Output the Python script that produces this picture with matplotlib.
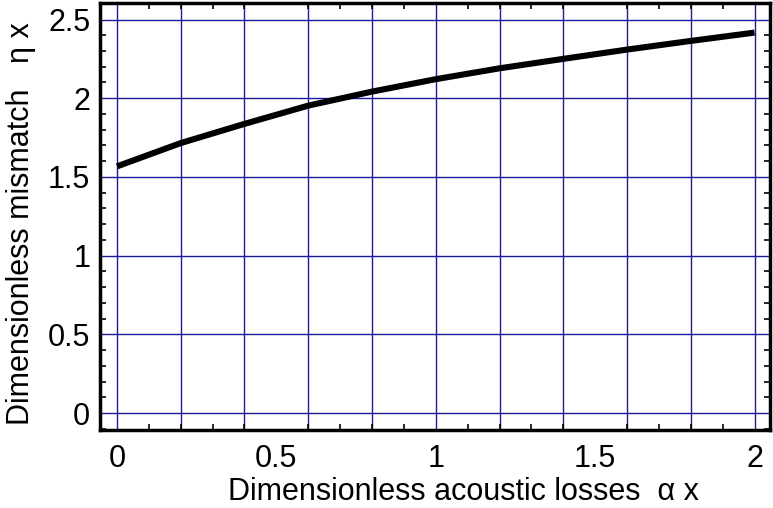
import matplotlib
matplotlib.use("Agg")
import matplotlib.pyplot as plt
import numpy as np
from matplotlib.ticker import MultipleLocator

plt.rcParams['font.family'] = ['Liberation Sans', 'DejaVu Sans']

alpha_x = [0.0, 0.2, 0.4, 0.6, 0.8, 1.0, 1.2, 1.4, 1.6, 1.8, 2.0]
eta_x = [1.567, 1.715, 1.837, 1.953, 2.042, 2.121, 2.190, 2.250, 2.309, 2.364, 2.417]

xticks = [0, 0.5, 1, 1.5, 2]
xtick_labels = ['0', '0.5', '1', '1.5', '2']
yticks = [0, 0.5, 1, 1.5, 2, 2.5]
ytick_labels = ['0', '0.5', '1', '1.5', '2', '2.5']
xgrid = [0, 0.2, 0.4, 0.6, 0.8, 1.0, 1.2, 1.4, 1.6, 1.8, 2.0]

fig = plt.figure(figsize=(7.73, 5.08), dpi=100)
ax = fig.add_axes([100/773, 78/508, 670/773, 427/508])

grid_color = '#1c1c9a'
for gx in xgrid:
    ax.axvline(gx, color=grid_color, lw=1.0, zorder=1)
for gy in yticks:
    ax.axhline(gy, color=grid_color, lw=1.0, zorder=1)

ax.plot(alpha_x, eta_x, color='black', lw=4.4, solid_capstyle='butt', zorder=3)

ax.set_xlim(-0.0533, 2.0486)
ax.set_ylim(-0.108, 2.605)

ax.set_xticks(xticks)
ax.set_xticklabels(xtick_labels)
ax.set_yticks(yticks)
ax.set_yticklabels(ytick_labels)
ax.xaxis.set_minor_locator(MultipleLocator(0.1))
ax.yaxis.set_minor_locator(MultipleLocator(0.1))

ax.tick_params(which='both', direction='in', top=True, right=True, width=1.2, color='black')
ax.tick_params(which='major', length=0, labelsize=22)
ax.tick_params(axis='x', which='major', pad=10)
ax.tick_params(axis='y', which='major', pad=7)
ax.tick_params(which='minor', length=4)

for s in ax.spines.values():
    s.set_linewidth(2.5)
    s.set_color('black')

fig.text(463/773, 8/508, 'Dimensionless acoustic losses  \u03b1 x', fontsize=22,
         ha='center', va='baseline')
fig.text(29/773, 1 - 224/508, 'Dimensionless mismatch   \u03b7 x', fontsize=22,
         ha='center', va='baseline', rotation=90, rotation_mode='anchor')

fig.savefig('out.png', dpi=100)
